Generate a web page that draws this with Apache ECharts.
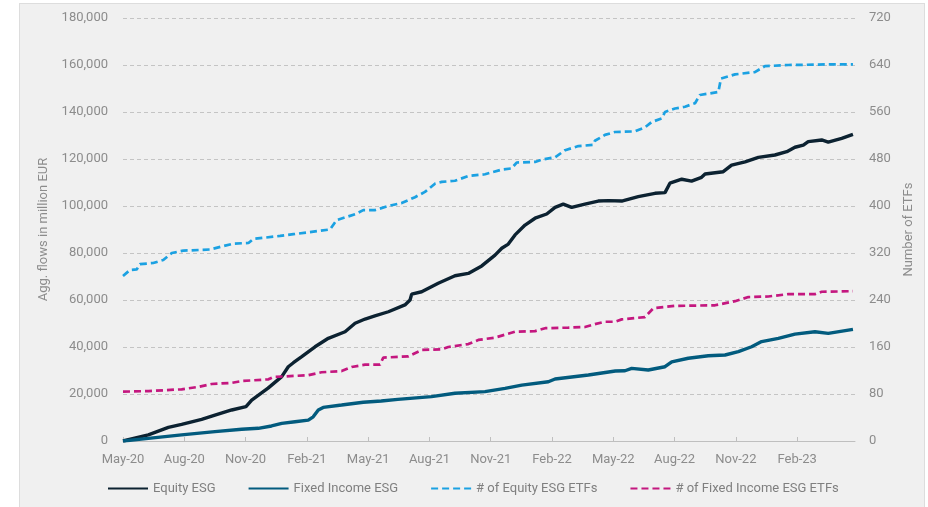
<!DOCTYPE html>
<html>
<head>
<meta charset="utf-8">
<script src="https://cdn.jsdelivr.net/npm/echarts@6/dist/echarts.min.js"></script>
<style>
  html, body { margin: 0; padding: 0; background: #ffffff; }
  #bg { position: absolute; left: 19px; top: 3px; width: 906px; height: 510px; background: #f0f0f0; border: 1px solid #dddddd; box-sizing: border-box; }
  #chart { position: absolute; left: 0; top: 0; width: 928px; height: 507px; }
</style>
</head>
<body>
<div id="bg"></div>
<div id="chart"></div>
<script>
// Tick labels (x axis: one label every 3 months, starting May-20 = month 0)
const monthLabels = ['May-20','Aug-20','Nov-20','Feb-21','May-21','Aug-21','Nov-21','Feb-22','May-22','Aug-22','Nov-22','Feb-23'];
const seriesNames = ['Equity ESG','Fixed Income ESG','# of Equity ESG ETFs','# of Fixed Income ESG ETFs'];

// Equity ESG aggregated flows (million EUR); x = months since May-20
const equityFlowX = [0,1.24,2.22,2.87,3.85,4.5,5.32,6.02,6.3,7.1,7.77,8.09,8.34,8.75,9.4,10.05,10.87,11.36,11.85,12.33,12.99,13.8,14.05,14.13,14.62,15.43,16.25,16.9,17.56,18.21,18.54,18.86,19.19,19.68,20.17,20.74,21.15,21.55,21.96,22.61,23.26,23.76,24.41,25.22,26.04,26.53,26.77,27.35,27.83,28.32,28.49,29.38,29.79,30.45,31.1,31.91,32.49,32.89,33.3,33.54,34.2,34.52,35.18,35.73];
const equityFlowY = [0,2600,5800,7100,9200,11000,13200,14600,17400,22500,27400,31600,33300,35900,40100,43700,46500,50100,51900,53200,55000,57900,60000,62500,63500,67100,70300,71300,74500,79100,82000,83800,87700,91900,94800,96600,99400,100800,99400,100800,102100,102300,102100,104000,105400,105700,109700,111400,110600,112200,113600,114600,117400,118800,120700,121700,123100,125000,125900,127400,128100,127200,128800,130500];

// Fixed Income ESG aggregated flows (million EUR)
const fixedFlowX = [0,1.24,2.87,4.5,5.81,6.62,7.27,7.77,8.42,9.07,9.31,9.56,9.8,10.7,11.76,12.64,13.45,15.1,16.25,17.72,18.7,19.52,20.82,21.15,22.78,24.1,24.57,24.9,25.71,26.53,26.86,27.67,28.65,29.47,30.12,30.77,31.26,32.08,32.89,33.87,34.52,35.73];
const fixedFlowY = [0,1100,2600,4000,5000,5400,6400,7500,8200,8900,10300,13200,14300,15300,16500,17000,17700,18900,20300,21000,22400,23800,25200,26400,28100,29800,29900,30900,30200,31600,33700,35200,36300,36600,38000,40100,42300,43700,45500,46500,45800,47500];

// Number of Equity ESG ETFs
const equityCountX = [0,0.34,0.67,0.83,1.48,1.97,2.39,2.95,4.26,5.4,6.14,6.38,7.69,8.34,10.13,10.22,10.46,11.36,11.76,12.33,12.99,13.64,14.29,14.78,15.27,15.6,16.25,16.9,17.72,18.54,19.02,19.27,20.17,20.5,21.15,21.64,22.29,23.02,23.1,23.59,24.08,25.06,25.55,25.88,26.37,26.53,27.02,27.51,28.0,28.24,29.14,29.27,29.96,30.93,31.42,32.56,34.52,35.73];
const equityCountY = [281,291,292,301,303,308,320,324,326,336,337,344,349,352,360,362,376,386,393,393,400,405,415,424,438,441,443,451,454,462,464,474,475,479,483,495,502,504,511,521,526,527,534,543,549,560,566,569,575,589,594,617,624,628,638,640,641,641];

// Number of Fixed Income ESG ETFs
const fixedCountX = [0,1.24,2.87,3.68,4.34,5.32,5.81,7.12,7.36,9.07,9.72,10.7,11.19,11.85,12.58,12.74,13.97,14.62,15.6,15.92,16.9,17.39,18.21,19.19,20.17,20.66,21.8,22.61,23.1,23.59,24.08,24.41,25.55,25.96,27.02,28.98,29.96,30.61,31.59,32.56,33.87,34.2,35.73];
const fixedCountY = [84,85,88,92,97,99,102,105,109,112,117,119,126,130,130,142,144,155,156,160,165,172,176,186,187,192,193,194,199,203,203,207,211,226,230,231,238,245,246,250,250,254,255];

const zip = (xs, ys) => xs.map((x, i) => [x, ys[i]]);
const tickValues = monthLabels.map((_, i) => i * 3);

const axisTextColor = '#8c8c8c';
const font = 'Roboto, "DejaVu Sans", sans-serif';

const chart = echarts.init(document.getElementById('chart'), null, { renderer: 'canvas' });
chart.setOption({
  backgroundColor: 'transparent',
  animation: false,
  textStyle: { fontFamily: font },
  grid: { left: 123, right: 73, top: 18, bottom: 66, containLabel: false },
  legend: {
    top: 482, left: 107, padding: 0,
    itemWidth: 40, itemHeight: 12, itemGap: 32,
    itemStyle: { opacity: 0 },
    textStyle: { color: '#7f7f7f', fontSize: 13, fontFamily: font },
    data: seriesNames
  },
  xAxis: {
    type: 'value', min: 0, max: 35.83, interval: 3,
    axisLine: { show: true, lineStyle: { color: '#bfbfbf', width: 1 } },
    axisTick: { show: true, inside: true, length: 4, lineStyle: { color: '#bfbfbf' }, customValues: tickValues },
    axisLabel: {
      color: axisTextColor, fontSize: 13, margin: 12, fontFamily: font,
      customValues: tickValues,
      formatter: v => monthLabels[Math.round(v / 3)] || ''
    },
    splitLine: { show: false }
  },
  yAxis: [
    {
      type: 'value', min: 0, max: 180000, interval: 20000, position: 'left',
      name: 'Agg. flows in million EUR', nameLocation: 'middle', nameGap: 68, nameRotate: 90,
      nameTextStyle: { color: axisTextColor, fontSize: 13, fontFamily: font },
      axisLine: { show: false }, axisTick: { show: false },
      axisLabel: { color: axisTextColor, fontSize: 13, margin: 15, fontFamily: font,
        formatter: v => v.toLocaleString('en-US') },
      splitLine: { show: true, lineStyle: { color: '#c4c4c4', type: [4, 3], width: 1 } }
    },
    {
      type: 'value', min: 0, max: 720, interval: 80, position: 'right',
      name: 'Number of ETFs', nameLocation: 'middle', nameGap: 45, nameRotate: 90,
      nameTextStyle: { color: axisTextColor, fontSize: 13, fontFamily: font },
      axisLine: { show: false }, axisTick: { show: false },
      axisLabel: { color: axisTextColor, fontSize: 13, margin: 14, fontFamily: font },
      splitLine: { show: false }
    }
  ],
  series: [
    { name: seriesNames[0], type: 'line', yAxisIndex: 0, showSymbol: false, symbol: 'none',
      data: zip(equityFlowX, equityFlowY), color: '#0c2231',
      lineStyle: { color: '#0c2231', width: 3.4 } },
    { name: seriesNames[1], type: 'line', yAxisIndex: 0, showSymbol: false, symbol: 'none',
      data: zip(fixedFlowX, fixedFlowY), color: '#025b7e',
      lineStyle: { color: '#025b7e', width: 3.4 } },
    { name: seriesNames[2], type: 'line', yAxisIndex: 1, showSymbol: false, symbol: 'none',
      data: zip(equityCountX, equityCountY), color: '#1ba1e2',
      lineStyle: { color: '#1ba1e2', width: 2.7, type: [7, 4] } },
    { name: seriesNames[3], type: 'line', yAxisIndex: 1, showSymbol: false, symbol: 'none',
      data: zip(fixedCountX, fixedCountY), color: '#c4177f',
      lineStyle: { color: '#c4177f', width: 2.7, type: [7, 4] } }
  ]
});
</script>
</body>
</html>
